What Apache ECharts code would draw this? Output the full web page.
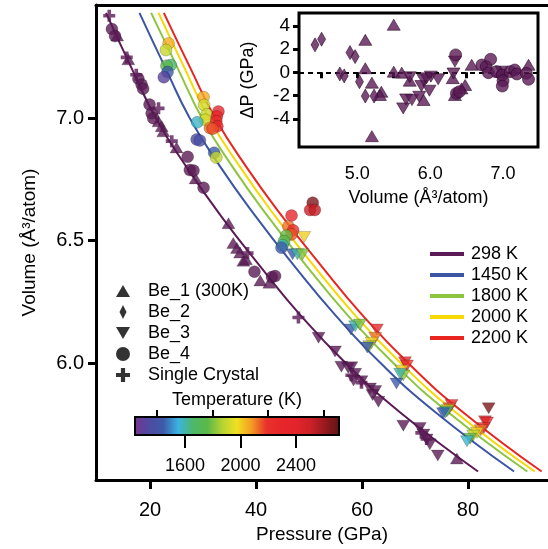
<!DOCTYPE html>
<html>
<head>
<meta charset="utf-8">
<script src="https://cdn.jsdelivr.net/npm/echarts@6/dist/echarts.min.js"></script>
<style>
html,body{margin:0;padding:0;background:#fff;}
#main{width:548px;height:549px;}
</style>
</head>
<body>
<div id="main"></div>
<script>
// EOS curves: volume grid and pressure of each isotherm at those volumes
var curveVolumes = [7.43, 7.2, 7.0, 6.8, 6.6, 6.4, 6.2, 6.0, 5.8, 5.557];
var curve298  = [11.7, 16.6, 21.1, 26.9, 33.4, 40.6, 48.2, 56.9, 67.1, 81.9];
var curve1450 = [18.0, 23.0, 27.5, 33.3, 39.9, 47.1, 54.8, 63.5, 73.8, 88.7];
var curve1800 = [20.2, 25.3, 29.8, 35.6, 42.2, 49.4, 57.1, 65.9, 76.2, 91.2];
var curve2000 = [21.6, 26.6, 31.1, 37.0, 43.6, 50.8, 58.5, 67.3, 77.6, 92.6];
var curve2200 = [22.6, 27.7, 32.3, 38.2, 44.9, 52.2, 59.9, 68.7, 79.0, 93.9];
var curveNames = ['298 K', '1450 K', '1800 K', '2000 K', '2200 K'];
var curveColors = ['#5c1a57', '#3c55a5', '#8cc63f', '#f7d800', '#e8251f'];

// room temperature points [P, V]
var be1Cold = [[13.8,7.337],[15.9,7.24],[21.6,6.987],[22.2,6.967],[22.5,6.946],[25.0,6.88],[28.6,6.754],
  [34.8,6.571],[35.7,6.49],[36.4,6.47],[37.0,6.451],[37.6,6.418],[38.1,6.424],[40.8,6.337],[42.5,6.328],[77.9,5.61]];
var be3Cold = [[51.8,6.103],[54.9,6.047],[56.1,5.985],[57.4,5.98],[58.0,5.983],[58.7,5.956],[58.4,5.929],
  [59.9,5.926],[61.5,5.896],[62.5,5.886],[62.0,5.869],[63.1,5.842],[67.8,5.744],[70.9,5.735],[71.6,5.708],
  [72.2,5.688],[72.8,5.668],[74.3,5.622]];
var be4Cold = [[12.8,7.364],[13.4,7.335],[17.8,7.161],[18.4,7.137],[18.7,7.12],[19.9,7.056],[20.3,7.02],
  [20.6,7.0],[27.1,6.842],[27.5,6.788],[28.2,6.786],[30.1,6.716],[39.7,6.373],[43.0,6.351],[43.6,6.355]];
var crystalCold = [[12.3,7.418],[15.6,7.248],[17.4,7.177],[21.6,7.04],[24.1,6.906],[38.4,6.449],
  [48.0,6.186],[58.0,5.95],[59.9,5.92],[71.2,5.715],[72.2,5.69]];

// high temperature points [P, V, T]
var be3Hot = [[49.1,6.515,2000],[46.9,6.444,1450],[47.8,6.444,1600],[48.8,6.444,1800],
  [57.9,6.137,1450],[58.7,6.15,1600],[59.6,6.157,1800],[62.8,6.137,2250],[62.5,6.103,2120],
  [61.8,6.083,2000],[61.4,6.069,1850],[61.0,6.063,1450],
  [68.1,6.003,2300],[68.5,5.99,2200],[67.5,5.969,2000],[67.8,5.949,1820],[67.2,5.956,1600],[66.5,5.916,1450],
  [76.9,5.829,2300],[76.5,5.815,2150],[76.2,5.808,1900],[76.0,5.802,1800],[75.7,5.798,1600],[75.3,5.795,1450],
  [83.9,5.815,2650],[83.2,5.762,2350],[83.6,5.757,2350],[83.0,5.735,2250],[82.4,5.726,2120],
  [81.7,5.715,2000],[81.0,5.704,1900],[80.4,5.691,1750],[79.8,5.681,1570]];
var be4Hot = [[23.5,7.305,2050],[23.0,7.278,1900],[23.9,7.217,1650],[23.1,7.214,1760],[23.3,7.188,1450],
  [22.6,7.167,1320],[30.1,7.086,2050],[30.2,7.054,1920],[30.7,7.016,1900],[30.4,6.993,1930],[28.9,6.983,1580],
  [32.9,7.027,2280],[32.6,7.007,2300],[32.5,6.987,2250],[32.7,6.967,2300],[31.3,6.96,2120],[31.8,6.957,2160],
  [28.8,6.913,1350],[29.4,6.909,1380],[32.1,6.859,1450],[32.5,6.839,1900],
  [50.7,6.655,2650],[50.2,6.625,2500],[51.1,6.625,2520],[46.7,6.602,2300],[46.1,6.558,2120],
  [47.0,6.542,2200],[46.7,6.525,2150],[45.7,6.52,1780],[45.3,6.498,1760],[45.0,6.481,1600],[44.8,6.471,1450]];

// inset residuals [V, dP]
var resBe1 = [[5.11,2.79],[5.11,0.35],[5.20,-0.89],[5.20,-5.49],[5.33,-1.67],[5.31,-1.95],[5.50,4.09],
  [5.50,0.06],[5.61,-0.03],[5.72,-0.72],[5.91,-2.38],[6.31,-0.5],[6.34,-1.95],[6.43,-1.38],[6.48,-1.09],
  [6.57,0.65],[6.96,0.06],[7.35,0.65]];
var resBe2 = [[4.42,2.36],[4.51,2.85],[4.76,-0.14],[4.82,-0.31],[4.90,1.70],[4.97,1.35],[5.03,-0.81],
  [5.11,-2.04],[5.23,-2.04]];
var resBe3 = [[5.63,-3.1],[5.67,-2.33],[5.75,-2.39],[5.72,-0.43],[5.85,-2.1],[5.88,-1.18],[5.91,-0.66],
  [5.95,-0.52],[5.99,-1.58],[6.01,-0.37],[6.11,-0.6],[6.32,-0.1],[6.34,0.92],[6.98,0.06]];
var resBe4 = [[6.35,1.5],[6.36,-1.81],[6.40,-1.67],[6.71,0.63],[6.77,0.49],[6.83,1.12],[6.80,-0.03],
  [6.91,0.06],[6.99,-0.23],[7.00,-0.72],[6.99,-1.18],[7.10,0.06],[7.16,0.20],[7.19,-0.14],[7.32,-0.09],[7.35,-0.6]];

// colour scale
var tempMin = 1240, tempMax = 2710;
var tempColors = ['#7a3290','#4f4aa0','#3c5ba9','#3cb3e3','#4db86a','#5cb848','#b5d334','#f0e020',
  '#f39a24','#e8322a','#e6262b','#e3242b','#cc2128','#96191e','#5c1414'];
var roomT = 298;

var UP_TRI = 'path://M5,0L10,8.7L0,8.7Z';
var DOWN_TRI = 'path://M0,0L10,0L5,8.7Z';
var DIAMOND = 'path://M5,0L8.5,7L5,14L1.5,7Z';
var PLUS = 'path://M3.5,0H6.5V3.5H10V6.5H6.5V10H3.5V6.5H0V3.5H3.5Z';
var FONT = 'Liberation Sans, Arial, Helvetica, sans-serif';
var PLUM = '#5a1a55';

function withT(arr){ return arr.map(function(d){ return [d[0], d[1], roomT]; }); }
function pairs(vs, ps){ return vs.map(function(v, i){ return [ps[i], v]; }); }

var chart = echarts.init(document.getElementById('main'));

var curves = [curve298, curve1450, curve1800, curve2000, curve2200];
var series = curves.map(function(c, i){
    return {
        name: curveNames[i], type: 'line', xAxisIndex: 0, yAxisIndex: 0,
        data: pairs(curveVolumes, c), smooth: true, showSymbol: false, z: 2,
        itemStyle: {color: curveColors[i]},
        lineStyle: {color: curveColors[i], width: 2}
    };
});

var hotStyle = {borderColor: 'rgba(0,0,0,0.35)', borderWidth: 0.7};
series.push(
    {name: 'Be_1 (300K)', type: 'scatter', xAxisIndex: 0, yAxisIndex: 0, z: 3,
     symbol: UP_TRI, symbolSize: [13, 11], data: withT(be1Cold), itemStyle: hotStyle},
    {name: 'Be_3', type: 'scatter', xAxisIndex: 0, yAxisIndex: 0, z: 3,
     symbol: DOWN_TRI, symbolSize: [13, 11], data: withT(be3Cold).concat(be3Hot), itemStyle: hotStyle},
    {name: 'Be_4', type: 'scatter', xAxisIndex: 0, yAxisIndex: 0, z: 3,
     symbol: 'circle', symbolSize: 12, data: withT(be4Cold).concat(be4Hot), itemStyle: hotStyle},
    {name: 'Single Crystal', type: 'scatter', xAxisIndex: 0, yAxisIndex: 0, z: 3,
     symbol: PLUS, symbolSize: 12, data: withT(crystalCold), itemStyle: {borderWidth: 0}}
);

var coldStyle = {color: PLUM, borderColor: '#2a0827', borderWidth: 0.7};
series.push(
    {name: 'Be_1 (300K)', type: 'scatter', xAxisIndex: 2, yAxisIndex: 1, z: 3,
     symbol: UP_TRI, symbolSize: [13, 11], data: resBe1, itemStyle: coldStyle,
     markLine: {silent: true, symbol: 'none', label: {show: false}, z: 1,
                lineStyle: {type: [5, 4], color: '#000', width: 2}, data: [{yAxis: 0}]}},
    {name: 'Be_2', type: 'scatter', xAxisIndex: 2, yAxisIndex: 1, z: 3,
     symbol: DIAMOND, symbolSize: [8, 14], data: resBe2, itemStyle: coldStyle},
    {name: 'Be_3', type: 'scatter', xAxisIndex: 2, yAxisIndex: 1, z: 3,
     symbol: DOWN_TRI, symbolSize: [13, 11], data: resBe3, itemStyle: coldStyle},
    {name: 'Be_4', type: 'scatter', xAxisIndex: 2, yAxisIndex: 1, z: 3,
     symbol: 'circle', symbolSize: 12, data: resBe4, itemStyle: coldStyle}
);

var gradStops = tempColors.map(function(c, i){ return {offset: i / (tempColors.length - 1), color: c}; });
var blackLine = {color: '#000', width: 3};

chart.setOption({
    animation: false,
    textStyle: {fontFamily: FONT, color: '#000'},
    grid: [
        {left: 96, top: 5, width: 452, height: 483},
        {left: 299, top: 13, width: 239, height: 134, show: true, backgroundColor: '#fff',
         borderColor: '#000', borderWidth: 3},
        {left: 135, top: 417, width: 204, height: 18, show: true, borderColor: '#000', borderWidth: 2,
         backgroundColor: {type: 'linear', x: 0, y: 0, x2: 1, y2: 0, colorStops: gradStops}}
    ],
    xAxis: [
        {type: 'value', gridIndex: 0, min: 9.8, max: 95.1,
         axisLine: {lineStyle: blackLine},
         axisTick: {length: 9, lineStyle: blackLine, customValues: [20, 40, 60, 80]},
         axisLabel: {customValues: [20, 40, 60, 80], fontSize: 20, color: '#000', margin: 20},
         splitLine: {show: false},
         name: 'Pressure (GPa)', nameLocation: 'middle', nameGap: 38,
         nameTextStyle: {fontSize: 19, color: '#000'}},
        {type: 'value', gridIndex: 0, position: 'top', min: 9.8, max: 95.1,
         axisLine: {lineStyle: blackLine}, axisTick: {show: false}, axisLabel: {show: false},
         splitLine: {show: false}},
        {type: 'value', gridIndex: 1, min: 4.2, max: 7.48,
         axisLine: {show: false},
         axisTick: {length: 6, lineStyle: blackLine, customValues: [4.5, 5, 5.5, 6, 6.5, 7]},
         axisLabel: {customValues: [5, 6, 7], fontSize: 18, color: '#000', margin: 18,
                     formatter: function(v){ return v.toFixed(1); }},
         splitLine: {show: false},
         name: 'Volume (Å³/atom)', nameLocation: 'middle', nameGap: 42,
         nameTextStyle: {fontSize: 18, color: '#000'}},
        {type: 'value', gridIndex: 2, min: tempMin, max: tempMax,
         axisLine: {show: false},
         axisTick: {length: 13, lineStyle: {color: '#000', width: 2}, customValues: [1600, 2000, 2400]},
         axisLabel: {customValues: [1600, 2000, 2400], fontSize: 18, color: '#000', margin: 22,
                     formatter: function(v){ return String(v); }},
         splitLine: {show: false}},
        {type: 'value', gridIndex: 2, min: tempMin, max: tempMax,
         axisLine: {show: false},
         axisTick: {length: 7, lineStyle: {color: '#000', width: 2}, customValues: [1400, 1800, 2200, 2600]},
         axisLabel: {show: false}, splitLine: {show: false}},
        {type: 'value', gridIndex: 2, position: 'top', min: tempMin, max: tempMax,
         axisLine: {show: false}, axisTick: {show: false}, axisLabel: {show: false}, splitLine: {show: false},
         name: 'Temperature (K)', nameLocation: 'middle', nameGap: 8,
         nameTextStyle: {fontSize: 18, color: '#000'}}
    ],
    yAxis: [
        {type: 'value', gridIndex: 0, min: 5.522, max: 7.462,
         axisLine: {lineStyle: blackLine},
         axisTick: {length: 8, lineStyle: blackLine, customValues: [6.0, 6.5, 7.0]},
         axisLabel: {customValues: [6.0, 6.5, 7.0], fontSize: 20, color: '#000', margin: 12,
                     formatter: function(v){ return v.toFixed(1); }},
         splitLine: {show: false},
         name: 'Volume (Å³/atom)', nameLocation: 'middle', nameGap: 57,
         nameTextStyle: {fontSize: 19, color: '#000'}},
        {type: 'value', gridIndex: 1, min: -6.42, max: 5.1,
         axisLine: {show: false},
         axisTick: {length: 6, lineStyle: blackLine, customValues: [-4, -2, 0, 2, 4]},
         axisLabel: {customValues: [-4, -2, 0, 2, 4], fontSize: 19, color: '#000', margin: 9},
         splitLine: {show: false},
         name: 'ΔP (GPa)', nameLocation: 'middle', nameGap: 42,
         nameTextStyle: {fontSize: 18, color: '#000'}},
        {type: 'value', gridIndex: 2, min: 0, max: 1, show: false}
    ],
    visualMap: {
        type: 'continuous', show: false, min: tempMin, max: tempMax, range: [tempMin + 1, tempMax],
        dimension: 2, seriesIndex: [5, 6, 7, 8],
        inRange: {color: tempColors},
        outOfRange: {color: [PLUM]}
    },
    legend: [
        {orient: 'vertical', left: 425, top: 240, itemWidth: 34, itemHeight: 4, itemGap: 3,
         icon: 'rect', data: curveNames,
         textStyle: {fontSize: 18, color: '#000', padding: [0, 0, 0, 2]}},
        {orient: 'vertical', left: 111, top: 277, itemWidth: 14, itemHeight: 14, itemGap: 3,
         textStyle: {fontSize: 18, color: '#000', padding: [0, 0, 0, 13]},
         data: [
            {name: 'Be_1 (300K)', icon: UP_TRI, itemStyle: {color: '#000', borderWidth: 0}},
            {name: 'Be_2', icon: DIAMOND, itemStyle: {color: '#000', borderWidth: 0}},
            {name: 'Be_3', icon: DOWN_TRI, itemStyle: {color: '#000', borderWidth: 0}},
            {name: 'Be_4', icon: 'circle', itemStyle: {color: '#000', borderWidth: 0}},
            {name: 'Single Crystal', icon: PLUS, itemStyle: {color: '#000', borderWidth: 0}}
         ]}
    ],
    series: series
});
</script>
</body>
</html>
